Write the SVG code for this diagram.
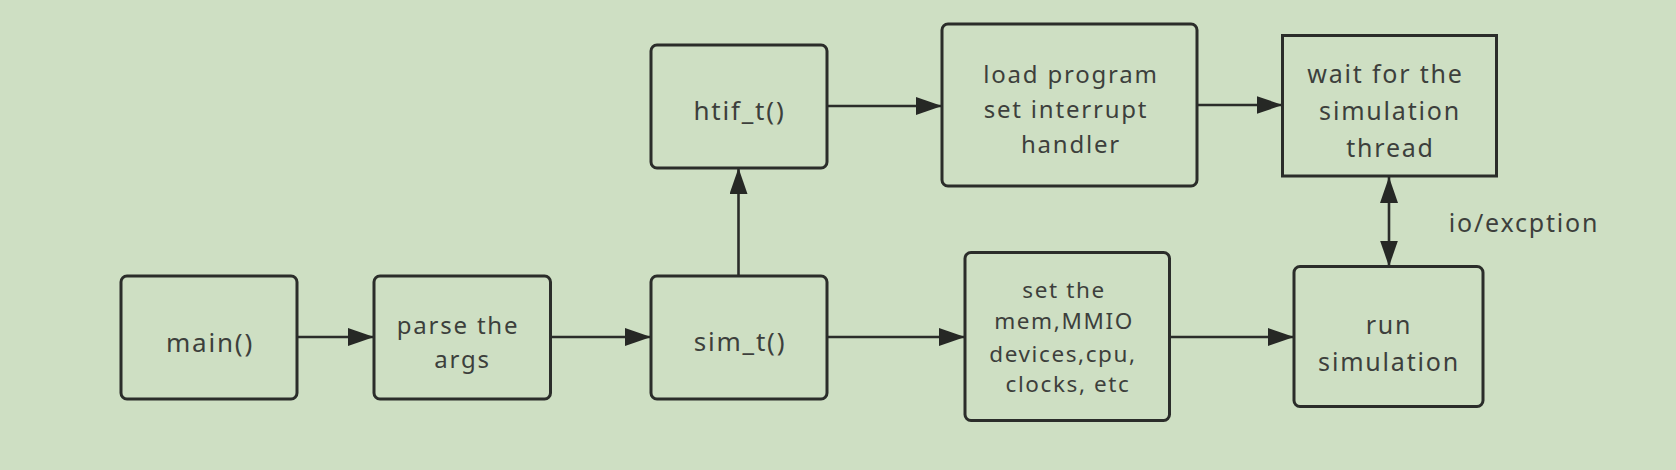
<svg xmlns="http://www.w3.org/2000/svg" width="1676" height="470" viewBox="0 0 1676 470">
<style>
.bg{fill:#cedfc3}
.box{fill:#cedfc3;stroke:#2b2d2a;stroke-width:3}
.t{font-family:"Noto Sans","Liberation Sans",sans-serif;fill:#3d3f3c;text-anchor:middle;letter-spacing:1.8px}
.f26{font-size:26px}
.f25{font-size:25px}
.f24{font-size:24px}
.f23{font-size:22.5px;letter-spacing:1.6px}
.c{fill:none;stroke:#2b2d2a;stroke-width:2.6}
</style>
<defs>
<marker id="ah" viewBox="0 0 26 18" refX="26" refY="9" markerWidth="26" markerHeight="18" markerUnits="userSpaceOnUse" orient="auto-start-reverse">
<path d="M0,0 L26,9 L0,18 z" fill="#262825"/>
</marker>
</defs>
<rect class="bg" x="0" y="0" width="1676" height="470"/>
<g id="connectors">
<path class="c" d="M297,337 H374" marker-end="url(#ah)"/>
<path class="c" d="M550.5,337 H651" marker-end="url(#ah)"/>
<path class="c" d="M827,337 H965" marker-end="url(#ah)"/>
<path class="c" d="M1170,337 H1294" marker-end="url(#ah)"/>
<path class="c" d="M738.5,276 V168" marker-end="url(#ah)"/>
<path class="c" d="M827,106 H942" marker-end="url(#ah)"/>
<path class="c" d="M1197,105 H1282.5" marker-end="url(#ah)"/>
<path class="c" d="M1389,177 V266.5" marker-start="url(#ah)" marker-end="url(#ah)"/>
<text class="t f25" x="1524" y="231.5">io/excption</text>
</g>
<g id="main">
<rect class="box" x="121" y="276" width="176" height="123" rx="6"/>
<text class="t f26" x="210" y="351.5">main()</text>
</g>
<g id="parse">
<rect class="box" x="374" y="276" width="176.5" height="123" rx="6"/>
<text class="t f24" x="458" y="334">parse the</text>
<text class="t f24" x="462.5" y="368.3">args</text>
</g>
<g id="sim">
<rect class="box" x="651" y="276" width="176" height="123" rx="6"/>
<text class="t f26" x="740" y="351">sim_t()</text>
</g>
<g id="htif">
<rect class="box" x="651" y="45" width="176" height="123" rx="6"/>
<text class="t f26" x="739.5" y="120">htif_t()</text>
</g>
<g id="load">
<rect class="box" x="942" y="24" width="255" height="162" rx="6"/>
<text class="t f24" x="1071" y="82.7">load program</text>
<text class="t f24" x="1066" y="117.7">set interrupt</text>
<text class="t f24" x="1071" y="152.7">handler</text>
</g>
<g id="wait">
<rect class="box" x="1282.5" y="35.5" width="214" height="140.5"/>
<text class="t f25" x="1385.5" y="83.3">wait for the</text>
<text class="t f25" x="1390" y="120">simulation</text>
<text class="t f25" x="1390.5" y="156.7">thread</text>
</g>
<g id="setup">
<rect class="box" x="965" y="252.5" width="204.5" height="168" rx="6"/>
<text class="t f23" x="1064" y="298.3">set the</text>
<text class="t f23" x="1064" y="329">mem,MMIO</text>
<text class="t f23" x="1063" y="361.7">devices,cpu,</text>
<text class="t f23" x="1068" y="392.3">clocks, etc</text>
</g>
<g id="run">
<rect class="box" x="1294" y="266.5" width="189" height="140" rx="6"/>
<text class="t f25" x="1389" y="334">run</text>
<text class="t f25" x="1389" y="370.7">simulation</text>
</g>
</svg>
